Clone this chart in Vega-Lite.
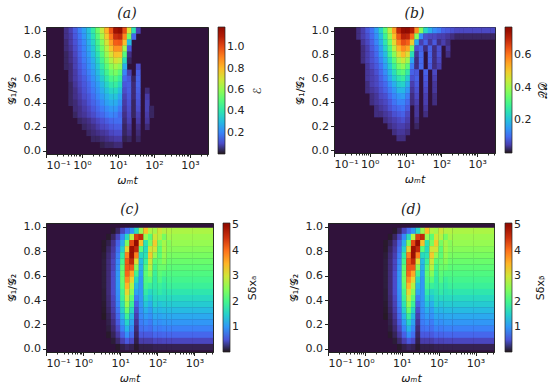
{"$schema":"https://vega.github.io/schema/vega-lite/v6.json","padding":{"left":5,"top":6,"right":0,"bottom":0},"background":"white","spacing":196,"bounds":"flush","config":{"font":"DejaVu Sans","view":{"fill":"#30123b","stroke":"#222"},"axis":{"labelFont":"DejaVu Sans","labelFontSize":11,"labelColor":"#222","tickColor":"#222","domainColor":"#222","tickSize":3.5,"grid":false,"titleFont":"DejaVu Sans","titleFontSize":11,"titleFontWeight":"normal","titleColor":"#111"},"legend":{"labelFontSize":11,"labelColor":"#222","labelOffset":6,"gradientStrokeColor":"#222","gradientStrokeWidth":0.7},"title":{"font":"DejaVu Serif","fontStyle":"italic","fontSize":14,"fontWeight":"normal","offset":4,"color":"#222"}},
"datasets":{"a":[
{"t":0.365,"g":1,"v":0.05},{"t":0.487,"g":1,"v":0.08},{"t":0.649,"g":1,"v":0.13},{"t":0.866,"g":1,"v":0.19},{"t":1.15,"g":1,"v":0.25},{"t":1.54,"g":1,"v":0.32},{"t":2.05,"g":1,"v":0.42},{"t":2.74,"g":1,"v":0.54},{"t":3.65,"g":1,"v":0.68},{"t":4.87,"g":1,"v":0.82},{"t":6.49,"g":1,"v":0.98},{"t":8.66,"g":1,"v":1.14},{"t":11.5,"g":1,"v":1.17},{"t":15.4,"g":1,"v":1.0},{"t":20.5,"g":1,"v":0.72},{"t":27.4,"g":1,"v":0.4},{"t":36.5,"g":1,"v":0.08},
{"t":0.365,"g":0.95,"v":0.05},{"t":0.487,"g":0.95,"v":0.07},{"t":0.649,"g":0.95,"v":0.12},{"t":0.866,"g":0.95,"v":0.17},{"t":1.15,"g":0.95,"v":0.23},{"t":1.54,"g":0.95,"v":0.3},{"t":2.05,"g":0.95,"v":0.39},{"t":2.74,"g":0.95,"v":0.5},{"t":3.65,"g":0.95,"v":0.63},{"t":4.87,"g":0.95,"v":0.77},{"t":6.49,"g":0.95,"v":0.92},{"t":8.66,"g":0.95,"v":1.06},{"t":11.5,"g":0.95,"v":1.08},{"t":15.4,"g":0.95,"v":0.9},{"t":20.5,"g":0.95,"v":0.55},{"t":27.4,"g":0.95,"v":0.15},
{"t":0.365,"g":0.9,"v":0.04},{"t":0.487,"g":0.9,"v":0.07},{"t":0.649,"g":0.9,"v":0.11},{"t":0.866,"g":0.9,"v":0.16},{"t":1.15,"g":0.9,"v":0.21},{"t":1.54,"g":0.9,"v":0.28},{"t":2.05,"g":0.9,"v":0.36},{"t":2.74,"g":0.9,"v":0.46},{"t":3.65,"g":0.9,"v":0.58},{"t":4.87,"g":0.9,"v":0.71},{"t":6.49,"g":0.9,"v":0.85},{"t":8.66,"g":0.9,"v":0.97},{"t":11.5,"g":0.9,"v":0.98},{"t":15.4,"g":0.9,"v":0.8},{"t":20.5,"g":0.9,"v":0.3},
{"t":0.365,"g":0.85,"v":0.04},{"t":0.487,"g":0.85,"v":0.06},{"t":0.649,"g":0.85,"v":0.1},{"t":0.866,"g":0.85,"v":0.15},{"t":1.15,"g":0.85,"v":0.2},{"t":1.54,"g":0.85,"v":0.26},{"t":2.05,"g":0.85,"v":0.33},{"t":2.74,"g":0.85,"v":0.43},{"t":3.65,"g":0.85,"v":0.54},{"t":4.87,"g":0.85,"v":0.66},{"t":6.49,"g":0.85,"v":0.78},{"t":8.66,"g":0.85,"v":0.88},{"t":11.5,"g":0.85,"v":0.88},{"t":15.4,"g":0.85,"v":0.62},{"t":20.5,"g":0.85,"v":0.12},
{"t":0.365,"g":0.8,"v":0.03},{"t":0.487,"g":0.8,"v":0.05},{"t":0.649,"g":0.8,"v":0.09},{"t":0.866,"g":0.8,"v":0.14},{"t":1.15,"g":0.8,"v":0.19},{"t":1.54,"g":0.8,"v":0.24},{"t":2.05,"g":0.8,"v":0.31},{"t":2.74,"g":0.8,"v":0.39},{"t":3.65,"g":0.8,"v":0.5},{"t":4.87,"g":0.8,"v":0.61},{"t":6.49,"g":0.8,"v":0.71},{"t":8.66,"g":0.8,"v":0.79},{"t":11.5,"g":0.8,"v":0.78},{"t":15.4,"g":0.8,"v":0.5},{"t":20.5,"g":0.8,"v":0.05},
{"t":0.365,"g":0.75,"v":0.03},{"t":0.487,"g":0.75,"v":0.05},{"t":0.649,"g":0.75,"v":0.08},{"t":0.866,"g":0.75,"v":0.13},{"t":1.15,"g":0.75,"v":0.18},{"t":1.54,"g":0.75,"v":0.22},{"t":2.05,"g":0.75,"v":0.28},{"t":2.74,"g":0.75,"v":0.36},{"t":3.65,"g":0.75,"v":0.46},{"t":4.87,"g":0.75,"v":0.56},{"t":6.49,"g":0.75,"v":0.65},{"t":8.66,"g":0.75,"v":0.71},{"t":11.5,"g":0.75,"v":0.68},{"t":15.4,"g":0.75,"v":0.38},{"t":20.5,"g":0.75,"v":0.03},
{"t":0.365,"g":0.7,"v":0.03},{"t":0.487,"g":0.7,"v":0.04},{"t":0.649,"g":0.7,"v":0.08},{"t":0.866,"g":0.7,"v":0.12},{"t":1.15,"g":0.7,"v":0.16},{"t":1.54,"g":0.7,"v":0.21},{"t":2.05,"g":0.7,"v":0.26},{"t":2.74,"g":0.7,"v":0.33},{"t":3.65,"g":0.7,"v":0.42},{"t":4.87,"g":0.7,"v":0.51},{"t":6.49,"g":0.7,"v":0.59},{"t":8.66,"g":0.7,"v":0.63},{"t":11.5,"g":0.7,"v":0.59},{"t":15.4,"g":0.7,"v":0.27},{"t":36.5,"g":0.7,"v":0.1},
{"t":0.487,"g":0.65,"v":0.04},{"t":0.649,"g":0.65,"v":0.07},{"t":0.866,"g":0.65,"v":0.11},{"t":1.15,"g":0.65,"v":0.15},{"t":1.54,"g":0.65,"v":0.19},{"t":2.05,"g":0.65,"v":0.24},{"t":2.74,"g":0.65,"v":0.3},{"t":3.65,"g":0.65,"v":0.38},{"t":4.87,"g":0.65,"v":0.46},{"t":6.49,"g":0.65,"v":0.53},{"t":8.66,"g":0.65,"v":0.56},{"t":11.5,"g":0.65,"v":0.5},{"t":15.4,"g":0.65,"v":0.2},{"t":20.5,"g":0.65,"v":0.08},{"t":36.5,"g":0.65,"v":0.13},
{"t":0.487,"g":0.6,"v":0.04},{"t":0.649,"g":0.6,"v":0.07},{"t":0.866,"g":0.6,"v":0.1},{"t":1.15,"g":0.6,"v":0.13},{"t":1.54,"g":0.6,"v":0.17},{"t":2.05,"g":0.6,"v":0.22},{"t":2.74,"g":0.6,"v":0.27},{"t":3.65,"g":0.6,"v":0.34},{"t":4.87,"g":0.6,"v":0.41},{"t":6.49,"g":0.6,"v":0.47},{"t":8.66,"g":0.6,"v":0.49},{"t":11.5,"g":0.6,"v":0.43},{"t":15.4,"g":0.6,"v":0.15},{"t":20.5,"g":0.6,"v":0.12},{"t":27.4,"g":0.6,"v":0.03},{"t":36.5,"g":0.6,"v":0.14},
{"t":0.487,"g":0.55,"v":0.03},{"t":0.649,"g":0.55,"v":0.06},{"t":0.866,"g":0.55,"v":0.09},{"t":1.15,"g":0.55,"v":0.12},{"t":1.54,"g":0.55,"v":0.15},{"t":2.05,"g":0.55,"v":0.2},{"t":2.74,"g":0.55,"v":0.24},{"t":3.65,"g":0.55,"v":0.3},{"t":4.87,"g":0.55,"v":0.36},{"t":6.49,"g":0.55,"v":0.41},{"t":8.66,"g":0.55,"v":0.43},{"t":11.5,"g":0.55,"v":0.37},{"t":15.4,"g":0.55,"v":0.12},{"t":20.5,"g":0.55,"v":0.13},{"t":27.4,"g":0.55,"v":0.04},{"t":36.5,"g":0.55,"v":0.14},
{"t":0.487,"g":0.5,"v":0.03},{"t":0.649,"g":0.5,"v":0.05},{"t":0.866,"g":0.5,"v":0.08},{"t":1.15,"g":0.5,"v":0.11},{"t":1.54,"g":0.5,"v":0.14},{"t":2.05,"g":0.5,"v":0.18},{"t":2.74,"g":0.5,"v":0.22},{"t":3.65,"g":0.5,"v":0.27},{"t":4.87,"g":0.5,"v":0.32},{"t":6.49,"g":0.5,"v":0.36},{"t":8.66,"g":0.5,"v":0.37},{"t":11.5,"g":0.5,"v":0.31},{"t":15.4,"g":0.5,"v":0.1},{"t":20.5,"g":0.5,"v":0.13},{"t":27.4,"g":0.5,"v":0.04},{"t":36.5,"g":0.5,"v":0.13},{"t":64.9,"g":0.5,"v":0.04},
{"t":0.487,"g":0.45,"v":0.03},{"t":0.649,"g":0.45,"v":0.05},{"t":0.866,"g":0.45,"v":0.07},{"t":1.15,"g":0.45,"v":0.1},{"t":1.54,"g":0.45,"v":0.12},{"t":2.05,"g":0.45,"v":0.16},{"t":2.74,"g":0.45,"v":0.2},{"t":3.65,"g":0.45,"v":0.24},{"t":4.87,"g":0.45,"v":0.28},{"t":6.49,"g":0.45,"v":0.31},{"t":8.66,"g":0.45,"v":0.32},{"t":11.5,"g":0.45,"v":0.26},{"t":15.4,"g":0.45,"v":0.08},{"t":20.5,"g":0.45,"v":0.12},{"t":27.4,"g":0.45,"v":0.04},{"t":36.5,"g":0.45,"v":0.12},{"t":64.9,"g":0.45,"v":0.07},
{"t":0.487,"g":0.4,"v":0.03},{"t":0.649,"g":0.4,"v":0.04},{"t":0.866,"g":0.4,"v":0.06},{"t":1.15,"g":0.4,"v":0.08},{"t":1.54,"g":0.4,"v":0.11},{"t":2.05,"g":0.4,"v":0.14},{"t":2.74,"g":0.4,"v":0.17},{"t":3.65,"g":0.4,"v":0.21},{"t":4.87,"g":0.4,"v":0.25},{"t":6.49,"g":0.4,"v":0.27},{"t":8.66,"g":0.4,"v":0.27},{"t":11.5,"g":0.4,"v":0.22},{"t":15.4,"g":0.4,"v":0.07},{"t":20.5,"g":0.4,"v":0.11},{"t":27.4,"g":0.4,"v":0.03},{"t":36.5,"g":0.4,"v":0.11},{"t":64.9,"g":0.4,"v":0.08},
{"t":0.649,"g":0.35,"v":0.04},{"t":0.866,"g":0.35,"v":0.05},{"t":1.15,"g":0.35,"v":0.07},{"t":1.54,"g":0.35,"v":0.09},{"t":2.05,"g":0.35,"v":0.12},{"t":2.74,"g":0.35,"v":0.15},{"t":3.65,"g":0.35,"v":0.18},{"t":4.87,"g":0.35,"v":0.21},{"t":6.49,"g":0.35,"v":0.23},{"t":8.66,"g":0.35,"v":0.23},{"t":11.5,"g":0.35,"v":0.18},{"t":15.4,"g":0.35,"v":0.06},{"t":20.5,"g":0.35,"v":0.1},{"t":27.4,"g":0.35,"v":0.03},{"t":36.5,"g":0.35,"v":0.1},{"t":64.9,"g":0.35,"v":0.08},{"t":86.6,"g":0.35,"v":0.03},
{"t":0.649,"g":0.3,"v":0.03},{"t":0.866,"g":0.3,"v":0.05},{"t":1.15,"g":0.3,"v":0.06},{"t":1.54,"g":0.3,"v":0.08},{"t":2.05,"g":0.3,"v":0.1},{"t":2.74,"g":0.3,"v":0.13},{"t":3.65,"g":0.3,"v":0.15},{"t":4.87,"g":0.3,"v":0.18},{"t":6.49,"g":0.3,"v":0.2},{"t":8.66,"g":0.3,"v":0.19},{"t":11.5,"g":0.3,"v":0.15},{"t":15.4,"g":0.3,"v":0.05},{"t":20.5,"g":0.3,"v":0.09},{"t":27.4,"g":0.3,"v":0.03},{"t":36.5,"g":0.3,"v":0.08},{"t":64.9,"g":0.3,"v":0.07},{"t":86.6,"g":0.3,"v":0.03},
{"t":0.866,"g":0.25,"v":0.03},{"t":1.15,"g":0.25,"v":0.04},{"t":1.54,"g":0.25,"v":0.05},{"t":2.05,"g":0.25,"v":0.07},{"t":2.74,"g":0.25,"v":0.09},{"t":3.65,"g":0.25,"v":0.11},{"t":4.87,"g":0.25,"v":0.13},{"t":6.49,"g":0.25,"v":0.15},{"t":8.66,"g":0.25,"v":0.16},{"t":11.5,"g":0.25,"v":0.16},{"t":15.4,"g":0.25,"v":0.04},{"t":20.5,"g":0.25,"v":0.08},{"t":36.5,"g":0.25,"v":0.07},{"t":64.9,"g":0.25,"v":0.06},
{"t":1.15,"g":0.2,"v":0.03},{"t":1.54,"g":0.2,"v":0.04},{"t":2.05,"g":0.2,"v":0.05},{"t":2.74,"g":0.2,"v":0.07},{"t":3.65,"g":0.2,"v":0.09},{"t":4.87,"g":0.2,"v":0.1},{"t":6.49,"g":0.2,"v":0.12},{"t":8.66,"g":0.2,"v":0.13},{"t":11.5,"g":0.2,"v":0.13},{"t":15.4,"g":0.2,"v":0.03},{"t":20.5,"g":0.2,"v":0.06},{"t":36.5,"g":0.2,"v":0.05},{"t":64.9,"g":0.2,"v":0.04},
{"t":1.54,"g":0.15,"v":0.03},{"t":2.05,"g":0.15,"v":0.04},{"t":2.74,"g":0.15,"v":0.05},{"t":3.65,"g":0.15,"v":0.06},{"t":4.87,"g":0.15,"v":0.07},{"t":6.49,"g":0.15,"v":0.09},{"t":8.66,"g":0.15,"v":0.1},{"t":11.5,"g":0.15,"v":0.1},{"t":15.4,"g":0.15,"v":0.03},{"t":20.5,"g":0.15,"v":0.05},{"t":36.5,"g":0.15,"v":0.04},
{"t":2.05,"g":0.1,"v":0.03},{"t":2.74,"g":0.1,"v":0.03},{"t":3.65,"g":0.1,"v":0.04},{"t":4.87,"g":0.1,"v":0.05},{"t":6.49,"g":0.1,"v":0.06},{"t":8.66,"g":0.1,"v":0.07},{"t":11.5,"g":0.1,"v":0.07},{"t":15.4,"g":0.1,"v":0.02},{"t":20.5,"g":0.1,"v":0.03},{"t":36.5,"g":0.1,"v":0.03},
{"t":3.65,"g":0.05,"v":0.02},{"t":4.87,"g":0.05,"v":0.03},{"t":6.49,"g":0.05,"v":0.03},{"t":8.66,"g":0.05,"v":0.04},{"t":11.5,"g":0.05,"v":0.04}
],"b":[
{"t":0.487,"g":1,"v":0.03},{"t":0.649,"g":1,"v":0.05},{"t":0.866,"g":1,"v":0.08},{"t":1.15,"g":1,"v":0.11},{"t":1.54,"g":1,"v":0.16},{"t":2.05,"g":1,"v":0.23},{"t":2.74,"g":1,"v":0.33},{"t":3.65,"g":1,"v":0.44},{"t":4.87,"g":1,"v":0.56},{"t":6.49,"g":1,"v":0.7},{"t":8.66,"g":1,"v":0.76},{"t":11.5,"g":1,"v":0.77},{"t":15.4,"g":1,"v":0.72},{"t":20.5,"g":1,"v":0.58},{"t":27.4,"g":1,"v":0.38},{"t":36.5,"g":1,"v":0.24},{"t":48.7,"g":1,"v":0.18},{"t":64.9,"g":1,"v":0.14},{"t":86.6,"g":1,"v":0.12},{"t":115,"g":1,"v":0.09},{"t":154,"g":1,"v":0.08},{"t":205,"g":1,"v":0.07},{"t":274,"g":1,"v":0.06},{"t":365,"g":1,"v":0.06},{"t":487,"g":1,"v":0.06},{"t":649,"g":1,"v":0.06},{"t":866,"g":1,"v":0.06},{"t":1150,"g":1,"v":0.06},{"t":1540,"g":1,"v":0.06},{"t":2050,"g":1,"v":0.06},{"t":2740,"g":1,"v":0.06},
{"t":0.487,"g":0.95,"v":0.03},{"t":0.649,"g":0.95,"v":0.05},{"t":0.866,"g":0.95,"v":0.07},{"t":1.15,"g":0.95,"v":0.1},{"t":1.54,"g":0.95,"v":0.14},{"t":2.05,"g":0.95,"v":0.2},{"t":2.74,"g":0.95,"v":0.29},{"t":3.65,"g":0.95,"v":0.4},{"t":4.87,"g":0.95,"v":0.52},{"t":6.49,"g":0.95,"v":0.64},{"t":8.66,"g":0.95,"v":0.71},{"t":11.5,"g":0.95,"v":0.7},{"t":15.4,"g":0.95,"v":0.62},{"t":20.5,"g":0.95,"v":0.38},{"t":27.4,"g":0.95,"v":0.14},{"t":36.5,"g":0.95,"v":0.07},{"t":48.7,"g":0.95,"v":0.06},{"t":64.9,"g":0.95,"v":0.06},{"t":86.6,"g":0.95,"v":0.05},{"t":115,"g":0.95,"v":0.05},{"t":154,"g":0.95,"v":0.04},{"t":205,"g":0.95,"v":0.03},{"t":274,"g":0.95,"v":0.02},{"t":365,"g":0.95,"v":0.02},{"t":487,"g":0.95,"v":0.02},{"t":649,"g":0.95,"v":0.02},{"t":866,"g":0.95,"v":0.02},{"t":1150,"g":0.95,"v":0.02},{"t":1540,"g":0.95,"v":0.02},{"t":2050,"g":0.95,"v":0.02},{"t":2740,"g":0.95,"v":0.02},
{"t":0.649,"g":0.9,"v":0.04},{"t":0.866,"g":0.9,"v":0.06},{"t":1.15,"g":0.9,"v":0.09},{"t":1.54,"g":0.9,"v":0.13},{"t":2.05,"g":0.9,"v":0.18},{"t":2.74,"g":0.9,"v":0.26},{"t":3.65,"g":0.9,"v":0.36},{"t":4.87,"g":0.9,"v":0.48},{"t":6.49,"g":0.9,"v":0.59},{"t":8.66,"g":0.9,"v":0.65},{"t":11.5,"g":0.9,"v":0.63},{"t":15.4,"g":0.9,"v":0.5},{"t":20.5,"g":0.9,"v":0.17},{"t":27.4,"g":0.9,"v":0.05},{"t":36.5,"g":0.9,"v":0.09},{"t":48.7,"g":0.9,"v":0.04},{"t":64.9,"g":0.9,"v":0.08},{"t":86.6,"g":0.9,"v":0.03},{"t":115,"g":0.9,"v":0.05},{"t":154,"g":0.9,"v":0.03},
{"t":0.649,"g":0.85,"v":0.03},{"t":0.866,"g":0.85,"v":0.05},{"t":1.15,"g":0.85,"v":0.08},{"t":1.54,"g":0.85,"v":0.11},{"t":2.05,"g":0.85,"v":0.16},{"t":2.74,"g":0.85,"v":0.23},{"t":3.65,"g":0.85,"v":0.32},{"t":4.87,"g":0.85,"v":0.43},{"t":6.49,"g":0.85,"v":0.53},{"t":8.66,"g":0.85,"v":0.58},{"t":11.5,"g":0.85,"v":0.55},{"t":15.4,"g":0.85,"v":0.36},{"t":20.5,"g":0.85,"v":0.07},{"t":27.4,"g":0.85,"v":0.09},{"t":36.5,"g":0.85,"v":0.03},{"t":48.7,"g":0.85,"v":0.09},{"t":64.9,"g":0.85,"v":0.03},{"t":86.6,"g":0.85,"v":0.07},{"t":154,"g":0.85,"v":0.04},
{"t":0.649,"g":0.8,"v":0.03},{"t":0.866,"g":0.8,"v":0.05},{"t":1.15,"g":0.8,"v":0.07},{"t":1.54,"g":0.8,"v":0.1},{"t":2.05,"g":0.8,"v":0.15},{"t":2.74,"g":0.8,"v":0.2},{"t":3.65,"g":0.8,"v":0.29},{"t":4.87,"g":0.8,"v":0.38},{"t":6.49,"g":0.8,"v":0.47},{"t":8.66,"g":0.8,"v":0.52},{"t":11.5,"g":0.8,"v":0.47},{"t":15.4,"g":0.8,"v":0.25},{"t":20.5,"g":0.8,"v":0.04},{"t":27.4,"g":0.8,"v":0.1},{"t":48.7,"g":0.8,"v":0.09},{"t":64.9,"g":0.8,"v":0.03},{"t":86.6,"g":0.8,"v":0.07},{"t":154,"g":0.8,"v":0.03},
{"t":0.649,"g":0.75,"v":0.03},{"t":0.866,"g":0.75,"v":0.05},{"t":1.15,"g":0.75,"v":0.07},{"t":1.54,"g":0.75,"v":0.09},{"t":2.05,"g":0.75,"v":0.13},{"t":2.74,"g":0.75,"v":0.18},{"t":3.65,"g":0.75,"v":0.25},{"t":4.87,"g":0.75,"v":0.33},{"t":6.49,"g":0.75,"v":0.41},{"t":8.66,"g":0.75,"v":0.45},{"t":11.5,"g":0.75,"v":0.4},{"t":15.4,"g":0.75,"v":0.17},{"t":20.5,"g":0.75,"v":0.03},{"t":27.4,"g":0.75,"v":0.1},{"t":48.7,"g":0.75,"v":0.09},{"t":64.9,"g":0.75,"v":0.03},{"t":86.6,"g":0.75,"v":0.06},
{"t":0.866,"g":0.7,"v":0.04},{"t":1.15,"g":0.7,"v":0.06},{"t":1.54,"g":0.7,"v":0.08},{"t":2.05,"g":0.7,"v":0.11},{"t":2.74,"g":0.7,"v":0.16},{"t":3.65,"g":0.7,"v":0.22},{"t":4.87,"g":0.7,"v":0.29},{"t":6.49,"g":0.7,"v":0.36},{"t":8.66,"g":0.7,"v":0.39},{"t":11.5,"g":0.7,"v":0.33},{"t":15.4,"g":0.7,"v":0.12},{"t":20.5,"g":0.7,"v":0.03},{"t":27.4,"g":0.7,"v":0.1},{"t":48.7,"g":0.7,"v":0.08},{"t":64.9,"g":0.7,"v":0.03},{"t":86.6,"g":0.7,"v":0.05},
{"t":0.866,"g":0.65,"v":0.04},{"t":1.15,"g":0.65,"v":0.05},{"t":1.54,"g":0.65,"v":0.07},{"t":2.05,"g":0.65,"v":0.1},{"t":2.74,"g":0.65,"v":0.14},{"t":3.65,"g":0.65,"v":0.19},{"t":4.87,"g":0.65,"v":0.25},{"t":6.49,"g":0.65,"v":0.31},{"t":8.66,"g":0.65,"v":0.33},{"t":11.5,"g":0.65,"v":0.27},{"t":15.4,"g":0.65,"v":0.09},{"t":20.5,"g":0.65,"v":0.08},{"t":36.5,"g":0.65,"v":0.09},{"t":64.9,"g":0.65,"v":0.06},
{"t":0.866,"g":0.6,"v":0.04},{"t":1.15,"g":0.6,"v":0.05},{"t":1.54,"g":0.6,"v":0.06},{"t":2.05,"g":0.6,"v":0.09},{"t":2.74,"g":0.6,"v":0.12},{"t":3.65,"g":0.6,"v":0.17},{"t":4.87,"g":0.6,"v":0.22},{"t":6.49,"g":0.6,"v":0.26},{"t":8.66,"g":0.6,"v":0.28},{"t":11.5,"g":0.6,"v":0.22},{"t":15.4,"g":0.6,"v":0.07},{"t":20.5,"g":0.6,"v":0.09},{"t":36.5,"g":0.6,"v":0.08},{"t":64.9,"g":0.6,"v":0.05},
{"t":0.866,"g":0.55,"v":0.03},{"t":1.15,"g":0.55,"v":0.05},{"t":1.54,"g":0.55,"v":0.06},{"t":2.05,"g":0.55,"v":0.08},{"t":2.74,"g":0.55,"v":0.1},{"t":3.65,"g":0.55,"v":0.14},{"t":4.87,"g":0.55,"v":0.18},{"t":6.49,"g":0.55,"v":0.22},{"t":8.66,"g":0.55,"v":0.23},{"t":11.5,"g":0.55,"v":0.18},{"t":15.4,"g":0.55,"v":0.05},{"t":20.5,"g":0.55,"v":0.08},{"t":36.5,"g":0.55,"v":0.07},{"t":64.9,"g":0.55,"v":0.04},
{"t":0.866,"g":0.5,"v":0.03},{"t":1.15,"g":0.5,"v":0.04},{"t":1.54,"g":0.5,"v":0.05},{"t":2.05,"g":0.5,"v":0.07},{"t":2.74,"g":0.5,"v":0.09},{"t":3.65,"g":0.5,"v":0.12},{"t":4.87,"g":0.5,"v":0.15},{"t":6.49,"g":0.5,"v":0.19},{"t":8.66,"g":0.5,"v":0.19},{"t":11.5,"g":0.5,"v":0.15},{"t":15.4,"g":0.5,"v":0.04},{"t":20.5,"g":0.5,"v":0.07},{"t":36.5,"g":0.5,"v":0.06},{"t":64.9,"g":0.5,"v":0.04},
{"t":1.15,"g":0.45,"v":0.03},{"t":1.54,"g":0.45,"v":0.04},{"t":2.05,"g":0.45,"v":0.06},{"t":2.74,"g":0.45,"v":0.07},{"t":3.65,"g":0.45,"v":0.1},{"t":4.87,"g":0.45,"v":0.13},{"t":6.49,"g":0.45,"v":0.15},{"t":8.66,"g":0.45,"v":0.16},{"t":11.5,"g":0.45,"v":0.12},{"t":15.4,"g":0.45,"v":0.03},{"t":20.5,"g":0.45,"v":0.06},{"t":36.5,"g":0.45,"v":0.05},{"t":64.9,"g":0.45,"v":0.03},
{"t":1.15,"g":0.4,"v":0.03},{"t":1.54,"g":0.4,"v":0.04},{"t":2.05,"g":0.4,"v":0.05},{"t":2.74,"g":0.4,"v":0.06},{"t":3.65,"g":0.4,"v":0.08},{"t":4.87,"g":0.4,"v":0.11},{"t":6.49,"g":0.4,"v":0.13},{"t":8.66,"g":0.4,"v":0.13},{"t":11.5,"g":0.4,"v":0.1},{"t":15.4,"g":0.4,"v":0.03},{"t":20.5,"g":0.4,"v":0.05},{"t":36.5,"g":0.4,"v":0.05},{"t":64.9,"g":0.4,"v":0.03},
{"t":1.54,"g":0.35,"v":0.03},{"t":2.05,"g":0.35,"v":0.04},{"t":2.74,"g":0.35,"v":0.05},{"t":3.65,"g":0.35,"v":0.07},{"t":4.87,"g":0.35,"v":0.09},{"t":6.49,"g":0.35,"v":0.1},{"t":8.66,"g":0.35,"v":0.11},{"t":11.5,"g":0.35,"v":0.08},{"t":20.5,"g":0.35,"v":0.04},{"t":36.5,"g":0.35,"v":0.04},
{"t":1.54,"g":0.3,"v":0.03},{"t":2.05,"g":0.3,"v":0.03},{"t":2.74,"g":0.3,"v":0.04},{"t":3.65,"g":0.3,"v":0.05},{"t":4.87,"g":0.3,"v":0.07},{"t":6.49,"g":0.3,"v":0.08},{"t":8.66,"g":0.3,"v":0.09},{"t":11.5,"g":0.3,"v":0.06},{"t":20.5,"g":0.3,"v":0.04},{"t":36.5,"g":0.3,"v":0.03},
{"t":2.74,"g":0.25,"v":0.03},{"t":3.65,"g":0.25,"v":0.04},{"t":4.87,"g":0.25,"v":0.05},{"t":6.49,"g":0.25,"v":0.06},{"t":8.66,"g":0.25,"v":0.07},{"t":11.5,"g":0.25,"v":0.05},{"t":20.5,"g":0.25,"v":0.03},
{"t":3.65,"g":0.2,"v":0.03},{"t":4.87,"g":0.2,"v":0.04},{"t":6.49,"g":0.2,"v":0.05},{"t":8.66,"g":0.2,"v":0.05},{"t":11.5,"g":0.2,"v":0.04},{"t":20.5,"g":0.2,"v":0.02},
{"t":4.87,"g":0.15,"v":0.03},{"t":6.49,"g":0.15,"v":0.04},{"t":8.66,"g":0.15,"v":0.04},{"t":11.5,"g":0.15,"v":0.03},
{"t":6.49,"g":0.1,"v":0.03},{"t":8.66,"g":0.1,"v":0.03}
],"c":[
{"t":6.49,"g":0.965,"v":0.05},{"t":8.66,"g":0.965,"v":0.15},{"t":11.5,"g":0.965,"v":0.4},{"t":15.4,"g":0.965,"v":0.7},{"t":20.5,"g":0.965,"v":1.0},{"t":27.4,"g":0.965,"v":1.6},{"t":36.5,"g":0.965,"v":2.6},{"t":48.7,"g":0.965,"v":3.4},{"t":64.9,"g":0.965,"v":2.8},{"t":86.6,"g":0.965,"v":2.7},{"t":115,"g":0.965,"v":3.0},{"t":154,"g":0.965,"v":2.8},{"t":205,"g":0.965,"v":2.8},
{"t":4.87,"g":0.915,"v":0.05},{"t":6.49,"g":0.915,"v":0.15},{"t":8.66,"g":0.915,"v":0.4},{"t":11.5,"g":0.915,"v":0.9},{"t":15.4,"g":0.915,"v":1.6},{"t":20.5,"g":0.915,"v":2.8},{"t":27.4,"g":0.915,"v":4.4},{"t":36.5,"g":0.915,"v":4.6},{"t":48.7,"g":0.915,"v":2.6},{"t":64.9,"g":0.915,"v":2.2},{"t":86.6,"g":0.915,"v":3.0},{"t":115,"g":0.915,"v":2.8},{"t":154,"g":0.915,"v":2.4},{"t":205,"g":0.915,"v":2.7},
{"t":3.65,"g":0.865,"v":0.05},{"t":4.87,"g":0.865,"v":0.1},{"t":6.49,"g":0.865,"v":0.25},{"t":8.66,"g":0.865,"v":0.6},{"t":11.5,"g":0.865,"v":1.2},{"t":15.4,"g":0.865,"v":2.4},{"t":20.5,"g":0.865,"v":4.3},{"t":27.4,"g":0.865,"v":5.0},{"t":36.5,"g":0.865,"v":3.4},{"t":48.7,"g":0.865,"v":1.7},{"t":64.9,"g":0.865,"v":2.4},{"t":86.6,"g":0.865,"v":3.3},{"t":115,"g":0.865,"v":2.4},{"t":154,"g":0.865,"v":2.7},{"t":205,"g":0.865,"v":2.5},
{"t":3.65,"g":0.815,"v":0.05},{"t":4.87,"g":0.815,"v":0.15},{"t":6.49,"g":0.815,"v":0.3},{"t":8.66,"g":0.815,"v":0.7},{"t":11.5,"g":0.815,"v":1.5},{"t":15.4,"g":0.815,"v":3.2},{"t":20.5,"g":0.815,"v":4.9},{"t":27.4,"g":0.815,"v":4.6},{"t":36.5,"g":0.815,"v":2.2},{"t":48.7,"g":0.815,"v":1.6},{"t":64.9,"g":0.815,"v":3.0},{"t":86.6,"g":0.815,"v":3.0},{"t":115,"g":0.815,"v":2.2},{"t":154,"g":0.815,"v":2.7},{"t":205,"g":0.815,"v":2.5},
{"t":3.65,"g":0.765,"v":0.07},{"t":4.87,"g":0.765,"v":0.18},{"t":6.49,"g":0.765,"v":0.35},{"t":8.66,"g":0.765,"v":0.8},{"t":11.5,"g":0.765,"v":1.8},{"t":15.4,"g":0.765,"v":3.9},{"t":20.5,"g":0.765,"v":4.9},{"t":27.4,"g":0.765,"v":3.9},{"t":36.5,"g":0.765,"v":1.6},{"t":48.7,"g":0.765,"v":1.7},{"t":64.9,"g":0.765,"v":3.3},{"t":86.6,"g":0.765,"v":2.6},{"t":115,"g":0.765,"v":2.2},{"t":154,"g":0.765,"v":2.6},{"t":205,"g":0.765,"v":2.4},
{"t":3.65,"g":0.715,"v":0.08},{"t":4.87,"g":0.715,"v":0.2},{"t":6.49,"g":0.715,"v":0.4},{"t":8.66,"g":0.715,"v":0.9},{"t":11.5,"g":0.715,"v":2.0},{"t":15.4,"g":0.715,"v":4.2},{"t":20.5,"g":0.715,"v":4.6},{"t":27.4,"g":0.715,"v":3.1},{"t":36.5,"g":0.715,"v":1.3},{"t":48.7,"g":0.715,"v":1.9},{"t":64.9,"g":0.715,"v":3.0},{"t":86.6,"g":0.715,"v":2.2},{"t":115,"g":0.715,"v":2.3},{"t":154,"g":0.715,"v":2.5},{"t":205,"g":0.715,"v":2.3},
{"t":3.65,"g":0.665,"v":0.08},{"t":4.87,"g":0.665,"v":0.2},{"t":6.49,"g":0.665,"v":0.4},{"t":8.66,"g":0.665,"v":0.95},{"t":11.5,"g":0.665,"v":2.2},{"t":15.4,"g":0.665,"v":4.2},{"t":20.5,"g":0.665,"v":4.2},{"t":27.4,"g":0.665,"v":2.5},{"t":36.5,"g":0.665,"v":1.2},{"t":48.7,"g":0.665,"v":2.1},{"t":64.9,"g":0.665,"v":2.8},{"t":86.6,"g":0.665,"v":2.0},{"t":115,"g":0.665,"v":2.3},{"t":154,"g":0.665,"v":2.3},{"t":205,"g":0.665,"v":2.2},
{"t":3.65,"g":0.615,"v":0.08},{"t":4.87,"g":0.615,"v":0.2},{"t":6.49,"g":0.615,"v":0.45},{"t":8.66,"g":0.615,"v":1.0},{"t":11.5,"g":0.615,"v":2.3},{"t":15.4,"g":0.615,"v":4.1},{"t":20.5,"g":0.615,"v":3.6},{"t":27.4,"g":0.615,"v":2.0},{"t":36.5,"g":0.615,"v":1.1},{"t":48.7,"g":0.615,"v":2.2},{"t":64.9,"g":0.615,"v":2.5},{"t":86.6,"g":0.615,"v":1.9},{"t":115,"g":0.615,"v":2.2},{"t":154,"g":0.615,"v":2.1},{"t":205,"g":0.615,"v":2.1},
{"t":3.65,"g":0.565,"v":0.08},{"t":4.87,"g":0.565,"v":0.2},{"t":6.49,"g":0.565,"v":0.45},{"t":8.66,"g":0.565,"v":1.0},{"t":11.5,"g":0.565,"v":2.3},{"t":15.4,"g":0.565,"v":3.8},{"t":20.5,"g":0.565,"v":3.2},{"t":27.4,"g":0.565,"v":1.6},{"t":36.5,"g":0.565,"v":1.0},{"t":48.7,"g":0.565,"v":2.1},{"t":64.9,"g":0.565,"v":2.2},{"t":86.6,"g":0.565,"v":1.8},{"t":115,"g":0.565,"v":2.1},{"t":154,"g":0.565,"v":1.9},{"t":205,"g":0.565,"v":2.0},
{"t":3.65,"g":0.515,"v":0.08},{"t":4.87,"g":0.515,"v":0.2},{"t":6.49,"g":0.515,"v":0.45},{"t":8.66,"g":0.515,"v":1.0},{"t":11.5,"g":0.515,"v":2.2},{"t":15.4,"g":0.515,"v":3.5},{"t":20.5,"g":0.515,"v":2.8},{"t":27.4,"g":0.515,"v":1.3},{"t":36.5,"g":0.515,"v":1.0},{"t":48.7,"g":0.515,"v":2.0},{"t":64.9,"g":0.515,"v":1.9},{"t":86.6,"g":0.515,"v":1.8},{"t":115,"g":0.515,"v":1.9},{"t":154,"g":0.515,"v":1.8},{"t":205,"g":0.515,"v":1.9},
{"t":3.65,"g":0.465,"v":0.07},{"t":4.87,"g":0.465,"v":0.2},{"t":6.49,"g":0.465,"v":0.45},{"t":8.66,"g":0.465,"v":0.95},{"t":11.5,"g":0.465,"v":2.0},{"t":15.4,"g":0.465,"v":3.2},{"t":20.5,"g":0.465,"v":2.5},{"t":27.4,"g":0.465,"v":1.1},{"t":36.5,"g":0.465,"v":1.0},{"t":48.7,"g":0.465,"v":1.8},{"t":64.9,"g":0.465,"v":1.6},{"t":86.6,"g":0.465,"v":1.7},{"t":115,"g":0.465,"v":1.8},{"t":154,"g":0.465,"v":1.7},{"t":205,"g":0.465,"v":1.75},
{"t":3.65,"g":0.415,"v":0.07},{"t":4.87,"g":0.415,"v":0.18},{"t":6.49,"g":0.415,"v":0.4},{"t":8.66,"g":0.415,"v":0.9},{"t":11.5,"g":0.415,"v":1.9},{"t":15.4,"g":0.415,"v":2.9},{"t":20.5,"g":0.415,"v":2.2},{"t":27.4,"g":0.415,"v":0.8},{"t":36.5,"g":0.415,"v":1.0},{"t":48.7,"g":0.415,"v":1.6},{"t":64.9,"g":0.415,"v":1.4},{"t":86.6,"g":0.415,"v":1.6},{"t":115,"g":0.415,"v":1.6},{"t":154,"g":0.415,"v":1.6},{"t":205,"g":0.415,"v":1.6},
{"t":3.65,"g":0.365,"v":0.06},{"t":4.87,"g":0.365,"v":0.17},{"t":6.49,"g":0.365,"v":0.37},{"t":8.66,"g":0.365,"v":0.85},{"t":11.5,"g":0.365,"v":1.7},{"t":15.4,"g":0.365,"v":2.6},{"t":20.5,"g":0.365,"v":1.9},{"t":27.4,"g":0.365,"v":0.6},{"t":36.5,"g":0.365,"v":1.0},{"t":48.7,"g":0.365,"v":1.4},{"t":64.9,"g":0.365,"v":1.2},{"t":86.6,"g":0.365,"v":1.5},{"t":115,"g":0.365,"v":1.4},{"t":154,"g":0.365,"v":1.45},{"t":205,"g":0.365,"v":1.45},
{"t":3.65,"g":0.315,"v":0.05},{"t":4.87,"g":0.315,"v":0.15},{"t":6.49,"g":0.315,"v":0.33},{"t":8.66,"g":0.315,"v":0.75},{"t":11.5,"g":0.315,"v":1.5},{"t":15.4,"g":0.315,"v":2.3},{"t":20.5,"g":0.315,"v":1.6},{"t":27.4,"g":0.315,"v":0.45},{"t":36.5,"g":0.315,"v":0.95},{"t":48.7,"g":0.315,"v":1.2},{"t":64.9,"g":0.315,"v":1.05},{"t":86.6,"g":0.315,"v":1.3},{"t":115,"g":0.315,"v":1.25},{"t":154,"g":0.315,"v":1.3},{"t":205,"g":0.315,"v":1.3},
{"t":3.65,"g":0.265,"v":0.04},{"t":4.87,"g":0.265,"v":0.12},{"t":6.49,"g":0.265,"v":0.28},{"t":8.66,"g":0.265,"v":0.65},{"t":11.5,"g":0.265,"v":1.25},{"t":15.4,"g":0.265,"v":1.9},{"t":20.5,"g":0.265,"v":1.3},{"t":27.4,"g":0.265,"v":0.35},{"t":36.5,"g":0.265,"v":0.9},{"t":48.7,"g":0.265,"v":1.05},{"t":64.9,"g":0.265,"v":0.95},{"t":86.6,"g":0.265,"v":1.15},{"t":115,"g":0.265,"v":1.1},{"t":154,"g":0.265,"v":1.15},{"t":205,"g":0.265,"v":1.15},
{"t":4.87,"g":0.215,"v":0.1},{"t":6.49,"g":0.215,"v":0.23},{"t":8.66,"g":0.215,"v":0.55},{"t":11.5,"g":0.215,"v":1.05},{"t":15.4,"g":0.215,"v":1.55},{"t":20.5,"g":0.215,"v":1.1},{"t":27.4,"g":0.215,"v":0.27},{"t":36.5,"g":0.215,"v":0.8},{"t":48.7,"g":0.215,"v":0.9},{"t":64.9,"g":0.215,"v":0.8},{"t":86.6,"g":0.215,"v":1.0},{"t":115,"g":0.215,"v":0.95},{"t":154,"g":0.215,"v":1.0},{"t":205,"g":0.215,"v":1.0},
{"t":4.87,"g":0.165,"v":0.08},{"t":6.49,"g":0.165,"v":0.18},{"t":8.66,"g":0.165,"v":0.42},{"t":11.5,"g":0.165,"v":0.85},{"t":15.4,"g":0.165,"v":1.25},{"t":20.5,"g":0.165,"v":0.9},{"t":27.4,"g":0.165,"v":0.2},{"t":36.5,"g":0.165,"v":0.7},{"t":48.7,"g":0.165,"v":0.75},{"t":64.9,"g":0.165,"v":0.7},{"t":86.6,"g":0.165,"v":0.85},{"t":115,"g":0.165,"v":0.8},{"t":154,"g":0.165,"v":0.85},{"t":205,"g":0.165,"v":0.85},
{"t":4.87,"g":0.115,"v":0.05},{"t":6.49,"g":0.115,"v":0.13},{"t":8.66,"g":0.115,"v":0.3},{"t":11.5,"g":0.115,"v":0.6},{"t":15.4,"g":0.115,"v":0.95},{"t":20.5,"g":0.115,"v":0.7},{"t":27.4,"g":0.115,"v":0.15},{"t":36.5,"g":0.115,"v":0.55},{"t":48.7,"g":0.115,"v":0.55},{"t":64.9,"g":0.115,"v":0.55},{"t":86.6,"g":0.115,"v":0.65},{"t":115,"g":0.115,"v":0.62},{"t":154,"g":0.115,"v":0.65},{"t":205,"g":0.115,"v":0.65},
{"t":6.49,"g":0.065,"v":0.07},{"t":8.66,"g":0.065,"v":0.17},{"t":11.5,"g":0.065,"v":0.35},{"t":15.4,"g":0.065,"v":0.55},{"t":20.5,"g":0.065,"v":0.42},{"t":27.4,"g":0.065,"v":0.1},{"t":36.5,"g":0.065,"v":0.33},{"t":48.7,"g":0.065,"v":0.33},{"t":64.9,"g":0.065,"v":0.33},{"t":86.6,"g":0.065,"v":0.4},{"t":115,"g":0.065,"v":0.38},{"t":154,"g":0.065,"v":0.4},{"t":205,"g":0.065,"v":0.4},
{"t":8.66,"g":0.015,"v":0.05},{"t":11.5,"g":0.015,"v":0.1},{"t":15.4,"g":0.015,"v":0.15},{"t":20.5,"g":0.015,"v":0.12},{"t":27.4,"g":0.015,"v":0.05},{"t":36.5,"g":0.015,"v":0.1},{"t":48.7,"g":0.015,"v":0.1},{"t":64.9,"g":0.015,"v":0.1},{"t":86.6,"g":0.015,"v":0.12},{"t":115,"g":0.015,"v":0.12},{"t":154,"g":0.015,"v":0.12},{"t":205,"g":0.015,"v":0.12}
],"p":[
{"t":453,"g":0.965,"v":2.75},{"t":1656,"g":0.965,"v":2.75},{"t":453,"g":0.915,"v":2.65},{"t":1656,"g":0.915,"v":2.65},{"t":453,"g":0.865,"v":2.6},{"t":1656,"g":0.865,"v":2.6},{"t":453,"g":0.815,"v":2.5},{"t":1656,"g":0.815,"v":2.5},{"t":453,"g":0.765,"v":2.4},{"t":1656,"g":0.765,"v":2.4},{"t":453,"g":0.715,"v":2.3},{"t":1656,"g":0.715,"v":2.3},{"t":453,"g":0.665,"v":2.2},{"t":1656,"g":0.665,"v":2.2},{"t":453,"g":0.615,"v":2.1},{"t":1656,"g":0.615,"v":2.1},{"t":453,"g":0.565,"v":2.0},{"t":1656,"g":0.565,"v":2.0},{"t":453,"g":0.515,"v":1.9},{"t":1656,"g":0.515,"v":1.9},{"t":453,"g":0.465,"v":1.75},{"t":1656,"g":0.465,"v":1.75},{"t":453,"g":0.415,"v":1.6},{"t":1656,"g":0.415,"v":1.6},{"t":453,"g":0.365,"v":1.45},{"t":1656,"g":0.365,"v":1.45},{"t":453,"g":0.315,"v":1.3},{"t":1656,"g":0.315,"v":1.3},{"t":453,"g":0.265,"v":1.15},{"t":1656,"g":0.265,"v":1.15},{"t":453,"g":0.215,"v":1.0},{"t":1656,"g":0.215,"v":1.0},{"t":453,"g":0.165,"v":0.85},{"t":1656,"g":0.165,"v":0.85},{"t":453,"g":0.115,"v":0.65},{"t":1656,"g":0.115,"v":0.65},{"t":453,"g":0.065,"v":0.4},{"t":1656,"g":0.065,"v":0.4},{"t":453,"g":0.015,"v":0.12},{"t":1656,"g":0.015,"v":0.12}
]},
"vconcat":[{"hconcat":[
{"width":162,"height":127,"title":"(a)","resolve":{"scale":{"y":"independent"},"axis":{"y":"independent"}},"encoding":{"x":{"field":"t","type":"quantitative","scale":{"type":"log","domain":[0.1,3162]},"axis":{"title":"ωₘt","titleFontStyle":"italic","titlePadding":4,"values":[0.1,0.2,0.3,0.4,0.5,0.6,0.7,0.8,0.9,1,2,3,4,5,6,7,8,9,10,20,30,40,50,60,70,80,90,100,200,300,400,500,600,700,800,900,1000,2000,3000],"labelExpr":"datum.value==0.1?'10⁻¹':datum.value==1?'10⁰':datum.value==10?'10¹':datum.value==100?'10²':datum.value==1000?'10³':''","tickSize":{"condition":{"test":"datum.value==0.1||datum.value==1||datum.value==10||datum.value==100||datum.value==1000","value":3.5},"value":2},"labelOverlap":false}}},
"layer":[{"data":{"name":"a"},"mark":{"type":"rect","width":4.8,"height":6.3},"encoding":{"y":{"field":"g","type":"quantitative","scale":{"domain":[-0.025,1.03],"nice":false,"zero":false},"axis":{"title":"𝒢₁/𝒢₂","titlePadding":6,"values":[0,0.2,0.4,0.6,0.8,1],"format":".1f"}},"color":{"field":"v","type":"quantitative","scale":{"scheme":"turbo","domain":[0,1.19]},"legend":{"orient":"none","legendX":172,"legendY":0,"gradientLength":127,"gradientThickness":7,"title":null,"values":[0.2,0.4,0.6,0.8,1.0],"format":".1f"}}}},
{"data":{"name":"a"},"mark":{"type":"rect","width":1,"height":1,"opacity":0},"encoding":{"y":{"field":"g","type":"quantitative","scale":{"domain":[-0.025,1.03],"nice":false,"zero":false},"axis":{"orient":"right","title":"ℰ","titleAngle":270,"titlePadding":54,"labels":false,"ticks":false,"domain":false}}}}]},
{"width":161,"height":126,"title":"(b)","resolve":{"scale":{"y":"independent"},"axis":{"y":"independent"}},"encoding":{"x":{"field":"t","type":"quantitative","scale":{"type":"log","domain":[0.1,3162]},"axis":{"title":"ωₘt","titleFontStyle":"italic","titlePadding":4,"values":[0.1,0.2,0.3,0.4,0.5,0.6,0.7,0.8,0.9,1,2,3,4,5,6,7,8,9,10,20,30,40,50,60,70,80,90,100,200,300,400,500,600,700,800,900,1000,2000,3000],"labelExpr":"datum.value==0.1?'10⁻¹':datum.value==1?'10⁰':datum.value==10?'10¹':datum.value==100?'10²':datum.value==1000?'10³':''","tickSize":{"condition":{"test":"datum.value==0.1||datum.value==1||datum.value==10||datum.value==100||datum.value==1000","value":3.5},"value":2},"labelOverlap":false}}},
"layer":[{"data":{"name":"b"},"mark":{"type":"rect","width":4.8,"height":6.3},"encoding":{"y":{"field":"g","type":"quantitative","scale":{"domain":[-0.025,1.03],"nice":false,"zero":false},"axis":{"title":"𝒢₁/𝒢₂","titlePadding":6,"values":[0,0.2,0.4,0.6,0.8,1],"format":".1f"}},"color":{"field":"v","type":"quantitative","scale":{"scheme":"turbo","domain":[0,0.775]},"legend":{"orient":"none","legendX":171,"legendY":0,"gradientLength":126,"gradientThickness":7,"title":null,"values":[0.2,0.4,0.6],"format":".1f"}}}},
{"data":{"name":"b"},"mark":{"type":"rect","width":1,"height":1,"opacity":0},"encoding":{"y":{"field":"g","type":"quantitative","scale":{"domain":[-0.025,1.03],"nice":false,"zero":false},"axis":{"orient":"right","title":"𝒬𝒟","titleAngle":270,"titlePadding":53,"labels":false,"ticks":false,"domain":false}}}}]}
],"spacing":126,"bounds":"flush","resolve":{"scale":{"color":"independent"}}},
{"hconcat":[
{"width":167,"height":129,"title":"(c)","resolve":{"scale":{"y":"independent","color":"shared"},"axis":{"y":"independent"}},"encoding":{"x":{"field":"t","type":"quantitative","scale":{"type":"log","domain":[0.1,3162]},"axis":{"title":"ωₘt","titleFontStyle":"italic","titlePadding":4,"values":[0.1,0.2,0.3,0.4,0.5,0.6,0.7,0.8,0.9,1,2,3,4,5,6,7,8,9,10,20,30,40,50,60,70,80,90,100,200,300,400,500,600,700,800,900,1000,2000,3000],"labelExpr":"datum.value==0.1?'10⁻¹':datum.value==1?'10⁰':datum.value==10?'10¹':datum.value==100?'10²':datum.value==1000?'10³':''","tickSize":{"condition":{"test":"datum.value==0.1||datum.value==1||datum.value==10||datum.value==100||datum.value==1000","value":3.5},"value":2},"labelOverlap":false}}},
"layer":[{"data":{"name":"c"},"mark":{"type":"rect","width":4.8,"height":6.4},"encoding":{"y":{"field":"g","type":"quantitative","scale":{"domain":[-0.025,1.03],"nice":false,"zero":false},"axis":{"title":"𝒢₁/𝒢₂","titlePadding":6,"values":[0,0.2,0.4,0.6,0.8,1],"format":".1f"}},"color":{"field":"v","type":"quantitative","scale":{"scheme":"turbo","domain":[0.02,5.09]},"legend":{"orient":"none","legendX":177,"legendY":0,"gradientLength":129,"gradientThickness":7,"title":null,"values":[1,2,3,4,5],"format":"d"}}}},
{"data":{"name":"p"},"mark":{"type":"rect","width":21,"height":6.4},"encoding":{"y":{"field":"g","type":"quantitative","scale":{"domain":[-0.025,1.03],"nice":false,"zero":false},"axis":{"orient":"right","title":"Sδxₐ","titleAngle":270,"titlePadding":44,"labels":false,"ticks":false,"domain":false}},"color":{"field":"v","type":"quantitative"}}}]},
{"width":166,"height":129,"title":"(d)","resolve":{"scale":{"y":"independent","color":"shared"},"axis":{"y":"independent"}},"encoding":{"x":{"field":"t","type":"quantitative","scale":{"type":"log","domain":[0.1,3162]},"axis":{"title":"ωₘt","titleFontStyle":"italic","titlePadding":4,"values":[0.1,0.2,0.3,0.4,0.5,0.6,0.7,0.8,0.9,1,2,3,4,5,6,7,8,9,10,20,30,40,50,60,70,80,90,100,200,300,400,500,600,700,800,900,1000,2000,3000],"labelExpr":"datum.value==0.1?'10⁻¹':datum.value==1?'10⁰':datum.value==10?'10¹':datum.value==100?'10²':datum.value==1000?'10³':''","tickSize":{"condition":{"test":"datum.value==0.1||datum.value==1||datum.value==10||datum.value==100||datum.value==1000","value":3.5},"value":2},"labelOverlap":false}}},
"layer":[{"data":{"name":"c"},"mark":{"type":"rect","width":4.8,"height":6.4},"encoding":{"y":{"field":"g","type":"quantitative","scale":{"domain":[-0.025,1.03],"nice":false,"zero":false},"axis":{"title":"𝒢₁/𝒢₂","titlePadding":6,"values":[0,0.2,0.4,0.6,0.8,1],"format":".1f"}},"color":{"field":"v","type":"quantitative","scale":{"scheme":"turbo","domain":[0.02,5.09]},"legend":{"orient":"none","legendX":177,"legendY":0,"gradientLength":129,"gradientThickness":7,"title":null,"values":[1,2,3,4,5],"format":"d"}}}},
{"data":{"name":"p"},"mark":{"type":"rect","width":21,"height":6.4},"encoding":{"y":{"field":"g","type":"quantitative","scale":{"domain":[-0.025,1.03],"nice":false,"zero":false},"axis":{"orient":"right","title":"Sδxᵦ","titleAngle":270,"titlePadding":51,"labels":false,"ticks":false,"domain":false}},"color":{"field":"v","type":"quantitative"}}}]}
],"spacing":115,"bounds":"flush","resolve":{"scale":{"color":"independent"}}}],
"resolve":{"scale":{"color":"independent"}}}
